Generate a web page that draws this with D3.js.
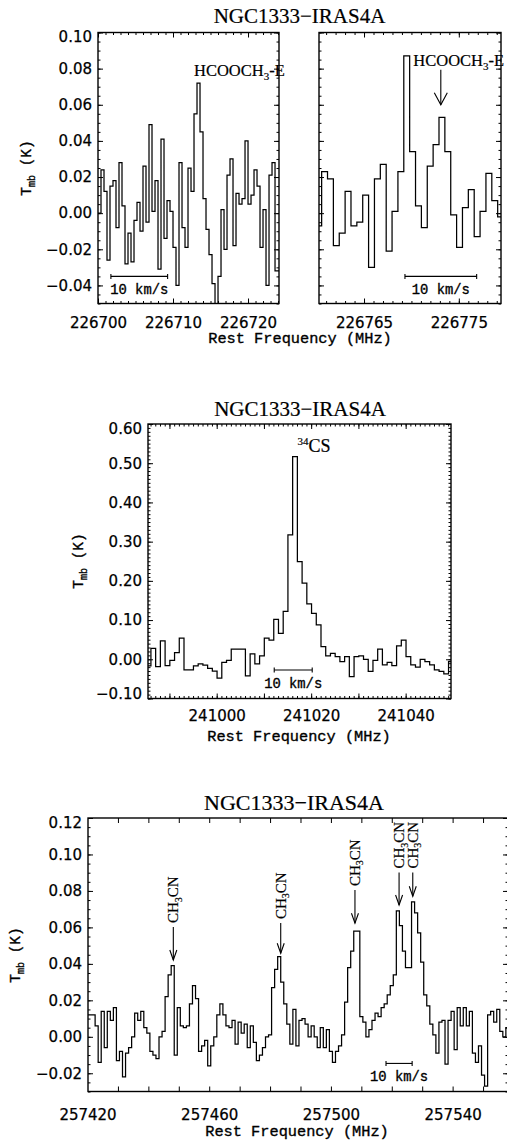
<!DOCTYPE html>
<html>
<head>
<meta charset="utf-8">
<script src="https://cdn.jsdelivr.net/npm/d3@7"></script>
<style>
  body { margin: 0; background: #fff; }
  svg { display: block; }
</style>
</head>
<body>
<script>
// ---- data ----
const sourceName = "NGC1333\u2212IRAS4A";
const xTitle = "Rest Frequency (MHz)";

// window 1: HCOOCH3-E, 0.4 MHz channels starting at 226700.0 MHz
const spec1Start = 226700.0, spec1Chan = 0.4;
const spec1 = [
  0.000, 0.024, 0.012, -0.026, 0.015, 0.018, -0.008, 0.028, 0.004, -0.028,
  -0.011, -0.027, -0.004, 0.006, -0.010, 0.026, -0.005, 0.049, 0.001, 0.018,
  -0.031, 0.041, -0.014, 0.007, 0.001, -0.019, -0.040, 0.028, -0.008, -0.019,
  0.025, 0.012, 0.055, 0.072, 0.045, 0.008, -0.009, -0.023, -0.039, -0.060,
  -0.035, 0.002, -0.020, 0.021, 0.030, -0.018, 0.011, 0.005, 0.008, 0.040,
  0.005, 0.010, 0.024, 0.015, -0.019, 0.002, -0.040, 0.021, 0.028, -0.032,
  -0.032
];

// window 2: HCOOCH3-E
const spec2Start = 226759.91, spec2Chan = 0.619;
const spec2 = [
  -0.007, 0.023, 0.019, -0.018, -0.011, 0.012, -0.007, -0.005, 0.010, -0.030,
  0.019, 0.027, -0.021, 0.001, 0.023, 0.087, 0.034, 0.004, -0.008, 0.026,
  0.038, 0.053, 0.034, -0.001, -0.019, 0.003, 0.013, -0.013, 0.001, 0.022,
  0.007, -0.002
];

// 34CS, 1 MHz channels
const spec3Start = 240985.08, spec3Chan = 1.0;
const spec3 = [
  -0.017, 0.028, -0.019, 0.047, -0.016, -0.003, 0.017, 0.054, -0.027, -0.027,
  -0.017, -0.012, -0.015, -0.023, -0.030, -0.048, -0.008, -0.003, 0.026, 0.026,
  0.026, -0.042, 0.014, -0.012, 0.009, 0.054, 0.049, 0.102, 0.066, 0.122,
  0.317, 0.517, 0.249, 0.194, 0.141, 0.117, 0.088, 0.032, 0.009, 0.015,
  0.007, -0.006, 0.007, -0.044, 0.007, 0.009, 0.000, -0.031, -0.003, 0.026,
  -0.014, -0.008, -0.016, 0.034, 0.049, 0.007, -0.014, -0.020, 0.000, -0.006,
  -0.014, -0.027, -0.031, -0.037, -0.006
];

// CH3CN band, 1 MHz channels
const spec4Start = 257419.5, spec4Chan = 1.0;
const spec4 = [
  0.012, 0.012, 0.012, 0.006, -0.014, 0.014, -0.006, 0.014, 0.009, 0.016,
  -0.013, -0.008, -0.022, -0.009, -0.006, 0.000, 0.013, 0.009, 0.014, 0.005,
  0.002, -0.008, -0.010, -0.012, 0.000, 0.003, 0.022, 0.034, 0.039, -0.010,
  0.016, 0.006, 0.005, 0.006, 0.018, 0.028, 0.021, -0.008, -0.005, -0.002,
  -0.016, -0.005, 0.000, 0.012, 0.018, 0.012, 0.006, 0.005, 0.009, -0.004,
  0.008, 0.002, 0.007, -0.006, 0.006, -0.003, -0.013, -0.010, -0.006, 0.000,
  0.001, 0.027, 0.037, 0.044, 0.030, 0.018, 0.007, -0.004, 0.015, -0.005,
  0.009, 0.010, 0.007, 0.000, 0.006, 0.000, -0.006, 0.005, -0.006, 0.004,
  -0.008, -0.014, -0.008, -0.005, 0.001, 0.019, 0.038, 0.047, 0.058, 0.058,
  0.011, 0.008, 0.000, 0.004, 0.009, 0.013, 0.011, 0.016, 0.018, 0.023,
  0.028, 0.034, 0.069, 0.061, 0.047, 0.038, 0.038, 0.074, 0.068, 0.057,
  0.041, 0.023, 0.017, 0.007, 0.001, -0.009, 0.008, 0.009, -0.015, 0.009,
  0.014, -0.007, 0.016, 0.006, 0.016, 0.006, 0.014, -0.009, -0.014, -0.005,
  -0.021, -0.027, 0.012, 0.014, 0.008, 0.015, 0.003, 0.000, 0.005
];

// tick labels
const xLabels1 = [226700, 226710, 226720];
const xLabels2 = [226765, 226775];
const xLabels3 = [241000, 241020, 241040];
const xLabels4 = [257420, 257460, 257500, 257540];
const yLabels12 = [-0.04, -0.02, 0.00, 0.02, 0.04, 0.06, 0.08, 0.10];
const yLabels3 = [-0.10, 0.00, 0.10, 0.20, 0.30, 0.40, 0.50, 0.60];
const yLabels4 = [-0.02, 0.00, 0.02, 0.04, 0.06, 0.08, 0.10, 0.12];

// line labels: [frequency, value]
const hcoLabelPos1 = [226712.8, 0.0759];
const hcoLabelPos2 = [226770.2, 0.0812];
const hcoArrow2 = [226773.1, 0.0794, 0.060];          // freq, tail, tip
const csLabelPos = [241017.1, 0.5275];
const ch3cnFreqs = [257448.2, 257483.5, 257507.9, 257522.4, 257526.9];
const ch3cnTails = [0.0602, 0.0624, 0.0805, 0.0901, 0.0901];
const ch3cnTips  = [0.0421, 0.0458, 0.0623, 0.0723, 0.0771];

// 10 km/s bars: centre frequency, level
const velBar = 10;
const barCentres = [226705.5, 226773.1, 241016.2, 257522.4];
const barLevels = [-0.035, -0.035, -0.0273, -0.0146];

const C_KMS = 299792.458;

// ---- drawing ----
const W = 507, H = 1141;
const svg = d3.select("body").append("svg").attr("width", W).attr("height", H);
svg.append("rect").attr("width", W).attr("height", H).attr("fill", "#fff");

const monoFont = "'Liberation Mono', 'DejaVu Sans Mono', monospace";
const serifFont = "'Liberation Serif', 'DejaVu Serif', serif";
const numFont = "'DejaVu Sans', sans-serif";

const fmtY = d => d3.format(".2f")(d).replace("-", "\u2212");
const fmtX = d3.format("d");

// slightly heavier text, the original is rendered with thick vector strokes
function heavy(sel, w) {
  return sel.attr("stroke", "#000").attr("stroke-width", w).attr("stroke-linejoin", "round");
}

function addTicks(parent, axis, values, size, fmt, pad) {
  const a = axis.tickValues(values).tickSizeInner(-size).tickSizeOuter(0)
    .tickPadding(pad || 0).tickFormat(fmt || (() => ""));
  const s = parent.append("g").call(a);
  s.select(".domain").remove();
  s.attr("font-family", numFont).attr("font-size", 15);
  s.selectAll(".tick line").attr("stroke", "#000").attr("stroke-width", 1);
  heavy(s.selectAll(".tick text").attr("fill", "#000"), 0.25);
  return s;
}

function panel(p) {
  const g = svg.append("g");
  const x = d3.scaleLinear().domain(p.xDomain).range([p.left, p.right]);
  const y = d3.scaleLinear().domain(p.yDomain).range([p.bottom, p.top]);

  const clipId = "clip" + p.id;
  svg.append("clipPath").attr("id", clipId).append("rect")
    .attr("x", p.left).attr("y", p.top)
    .attr("width", p.right - p.left).attr("height", p.bottom - p.top);

  // histogram-style spectrum
  const pts = p.values.map((v, i) => [p.start + i * p.chan, v]);
  pts.push([p.start + p.values.length * p.chan, p.values[p.values.length - 1]]);
  g.append("path").datum(pts)
    .attr("clip-path", `url(#${clipId})`)
    .attr("fill", "none").attr("stroke", "#000").attr("stroke-width", 1.25)
    .attr("d", d3.line().x(d => x(d[0])).y(d => y(d[1])).curve(d3.curveStepAfter));

  // frame
  g.append("rect").attr("x", p.left).attr("y", p.top)
    .attr("width", p.right - p.left).attr("height", p.bottom - p.top)
    .attr("fill", "none").attr("stroke", "#000").attr("stroke-width", 1.4);

  const bot = g.append("g").attr("transform", `translate(0,${p.bottom})`);
  const top = g.append("g").attr("transform", `translate(0,${p.top})`);
  const lef = g.append("g").attr("transform", `translate(${p.left},0)`);
  const rig = g.append("g").attr("transform", `translate(${p.right},0)`);

  [[bot, d3.axisBottom], [top, d3.axisTop]].forEach(([sel, ax]) => {
    if (p.xMinor) addTicks(sel, ax(x), p.xMinor, 2.5);
    addTicks(sel, ax(x), p.xMajor, 5);
  });
  [[lef, d3.axisLeft], [rig, d3.axisRight]].forEach(([sel, ax]) => {
    addTicks(sel, ax(y), p.yMinor, 2.5);
    addTicks(sel, ax(y), p.yMajor, 5);
  });

  // x labels
  addTicks(bot, d3.axisBottom(x), p.xLabels, 0, fmtX, p.xPad);
  // y labels
  if (p.yLabels) {
    const s = addTicks(lef, d3.axisLeft(y), p.yLabels, 0, fmtY, 6);
    s.selectAll(".tick text").attr("y", d => {
      const yy = y(d);
      if (yy - p.top < 4.5) return p.top + 4.5 - yy;
      if (p.bottom - yy < 4.5) return p.bottom - 4.5 - yy;
      return 0;
    });
  }
  return { g, x, y };
}

function drawBar(pn, centre, level) {
  const half = centre * velBar / C_KMS / 2;
  const x0 = pn.x(centre - half), x1 = pn.x(centre + half), yy = pn.y(level);
  const b = pn.g.append("g").attr("stroke", "#000").attr("stroke-width", 1.1);
  b.append("line").attr("x1", x0).attr("x2", x1).attr("y1", yy).attr("y2", yy);
  b.append("line").attr("x1", x0).attr("x2", x0).attr("y1", yy - 2.5).attr("y2", yy + 2.5);
  b.append("line").attr("x1", x1).attr("x2", x1).attr("y1", yy - 2.5).attr("y2", yy + 2.5);
  heavy(pn.g.append("text").attr("x", pn.x(centre)).attr("y", yy + 17.7)
    .attr("text-anchor", "middle").attr("font-family", monoFont).attr("font-size", 13.8)
    .attr("fill", "#000"), 0.35).text("10 km/s");
}

function hcoLabel(pn, pos) {
  const t = pn.g.append("text").attr("x", pn.x(pos[0])).attr("y", pn.y(pos[1]))
    .attr("font-family", serifFont).attr("font-size", 16.5).attr("fill", "#000");
  heavy(t, 0.2);
  t.append("tspan").text("HCOOCH");
  t.append("tspan").attr("font-size", 11).attr("dy", 4).text("3");
  t.append("tspan").attr("dy", -4).text("-E");
}

function arrow(pn, f, tail, tip, w, h) {
  const xx = pn.x(f), y0 = pn.y(tail), y1 = pn.y(tip);
  const a = pn.g.append("g").attr("stroke", "#000").attr("stroke-width", 1.1).attr("fill", "none");
  a.append("line").attr("x1", xx).attr("x2", xx).attr("y1", y0).attr("y2", y1);
  a.append("path").attr("d", `M${xx - w},${y1 - h}L${xx},${y1}L${xx + w},${y1 - h}`);
}

function yTitle(x, y) {
  const t = svg.append("text").attr("transform", `translate(${x},${y}) rotate(-90)`)
    .attr("text-anchor", "middle").attr("font-family", monoFont).attr("font-size", 14.5).attr("fill", "#000");
  heavy(t, 0.35);
  t.append("tspan").text("T");
  t.append("tspan").attr("font-size", 10).attr("dy", 4).text("mb");
  t.append("tspan").attr("dy", -4).text(" (K)");
}

function titleText(x, y, s, size) {
  heavy(svg.append("text").attr("x", x).attr("y", y).attr("text-anchor", "middle")
    .attr("font-family", serifFont).attr("font-size", size).attr("fill", "#000"), 0.2).text(s);
}
function xTitleText(x, y) {
  heavy(svg.append("text").attr("x", x).attr("y", y).attr("text-anchor", "middle")
    .attr("font-family", monoFont).attr("font-size", 15.3).attr("fill", "#000"), 0.35).text(xTitle);
}

const step = (a, b, s) => d3.range(Math.round(a / s), Math.round(b / s) + 1).map(i => +(i * s).toFixed(6));

// ---- top row ----
const p1 = panel({
  id: 1, left: 98, right: 279, top: 32.5, bottom: 303.5,
  xDomain: [226700, 226724.13], yDomain: [-0.05, 0.10],
  start: spec1Start, chan: spec1Chan, values: spec1,
  xMinor: d3.range(226700, 226725, 1), xMajor: xLabels1, xLabels: xLabels1, xPad: 13.8,
  yMinor: step(-0.05, 0.10, 0.005), yMajor: yLabels12, yLabels: yLabels12
});
const p2 = panel({
  id: 2, left: 319, right: 501, top: 32.5, bottom: 303.5,
  xDomain: [226760.25, 226779.45], yDomain: [-0.05, 0.10],
  start: spec2Start, chan: spec2Chan, values: spec2,
  xMinor: d3.range(226761, 226780, 1), xMajor: xLabels2, xLabels: xLabels2, xPad: 13.8,
  yMinor: step(-0.05, 0.10, 0.005), yMajor: yLabels12, yLabels: null
});
hcoLabel(p1, hcoLabelPos1);
hcoLabel(p2, hcoLabelPos2);
arrow(p2, hcoArrow2[0], hcoArrow2[1], hcoArrow2[2], 6.5, 12);
drawBar(p1, barCentres[0], barLevels[0]);
drawBar(p2, barCentres[1], barLevels[1]);
titleText(299.5, 22.5, sourceName, 21);
xTitleText(300, 343);
yTitle(31, 168);

// ---- middle ----
const p3 = panel({
  id: 3, left: 148, right: 451, top: 424, bottom: 698.5,
  xDomain: [240985.46, 241049.6], yDomain: [-0.10, 0.60],
  start: spec3Start, chan: spec3Chan, values: spec3,
  xMinor: d3.range(240986, 241050, 1), xMajor: d3.range(240990, 241050, 10), xLabels: xLabels3, xPad: 12.3,
  yMinor: step(-0.10, 0.60, 0.01), yMajor: yLabels3, yLabels: yLabels3
});
{
  const t = p3.g.append("text").attr("x", p3.x(csLabelPos[0])).attr("y", p3.y(csLabelPos[1]))
    .attr("font-family", serifFont).attr("font-size", 18).attr("fill", "#000");
  heavy(t, 0.2);
  t.append("tspan").attr("font-size", 11).attr("dy", -7).text("34");
  t.append("tspan").attr("dy", 7).text("CS");
}
drawBar(p3, barCentres[2], barLevels[2]);
titleText(300, 416, sourceName, 21);
xTitleText(299, 741);
yTitle(83, 561);

// ---- bottom ----
const p4 = panel({
  id: 4, left: 88, right: 508, top: 818, bottom: 1091.5,
  xDomain: [257420.16, 257558.2], yDomain: [-0.03, 0.12],
  start: spec4Start, chan: spec4Chan, values: spec4,
  xMinor: null, xMajor: d3.range(257430, 257560, 10), xLabels: xLabels4, xPad: 17.5,
  yMinor: step(-0.03, 0.12, 0.005), yMajor: yLabels4, yLabels: yLabels4
});
ch3cnFreqs.forEach((f, i) => {
  arrow(p4, f, ch3cnTails[i], ch3cnTips[i], 3.5, 10);
  const tx = p4.x(f) + 5, ty = p4.y(ch3cnTails[i]) - 4;
  const t = p4.g.append("text").attr("transform", `translate(${tx},${ty}) rotate(-90)`)
    .attr("font-family", serifFont).attr("font-size", 15).attr("fill", "#000");
  heavy(t, 0.2);
  t.append("tspan").text("CH");
  t.append("tspan").attr("font-size", 10).attr("dy", 3.5).text("3");
  t.append("tspan").attr("dy", -3.5).text("CN");
});
drawBar(p4, barCentres[3], barLevels[3]);
titleText(294, 810, sourceName, 22);
xTitleText(297, 1136);
yTitle(20, 955);
</script>
</body>
</html>
